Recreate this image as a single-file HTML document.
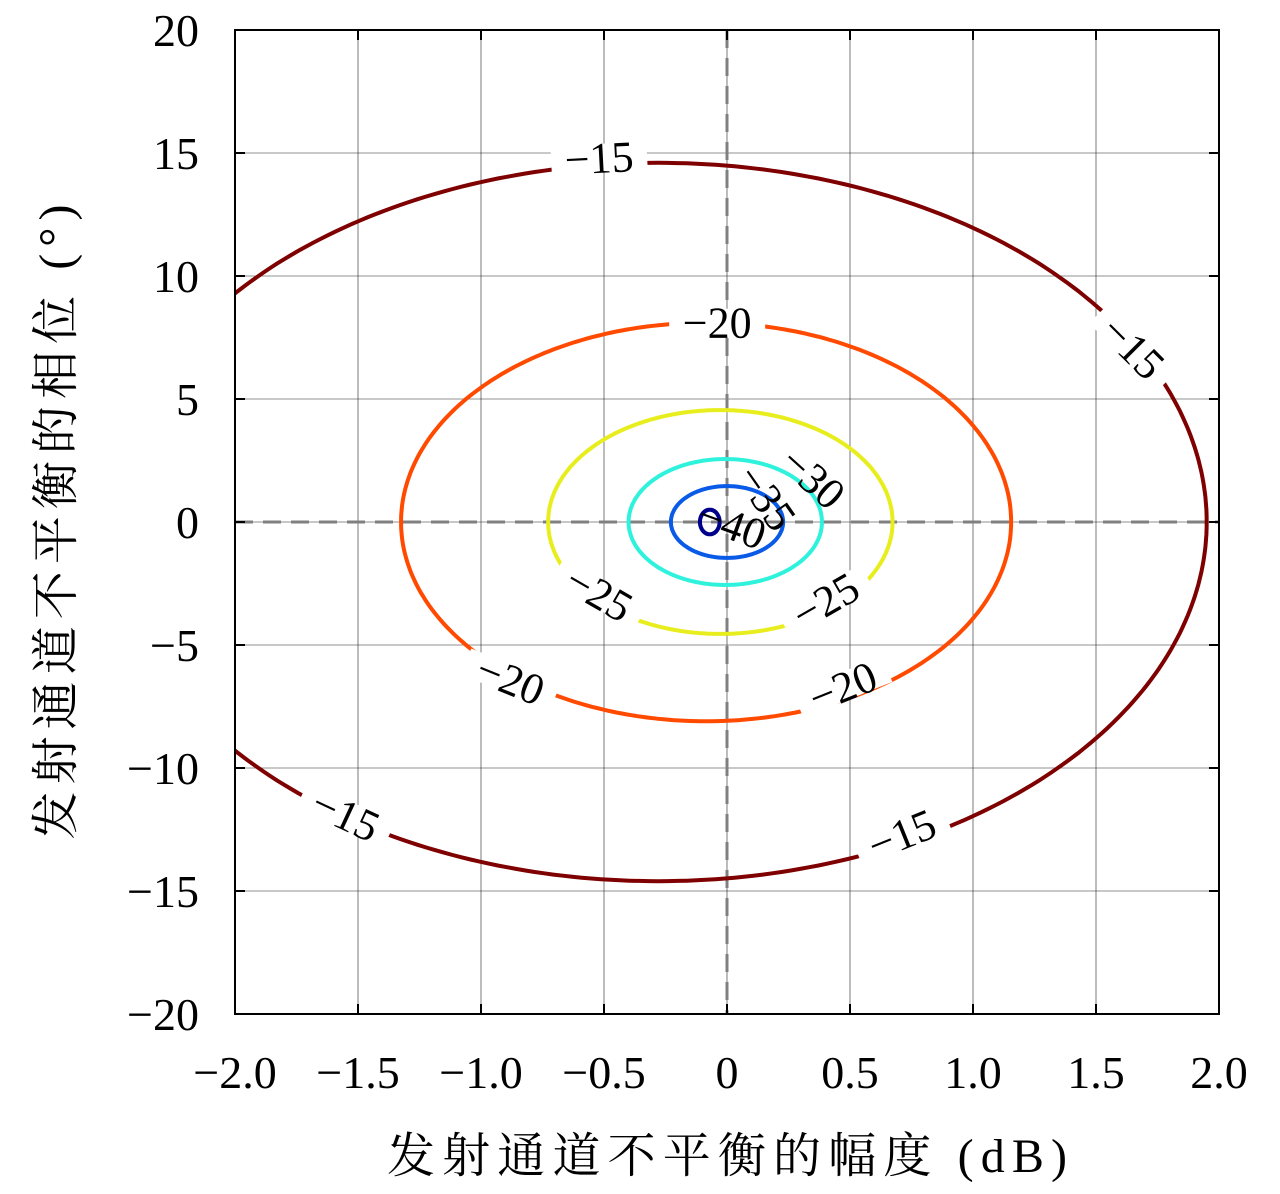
<!DOCTYPE html>
<html><head><meta charset="utf-8"><style>
body{margin:0;background:#fff}
svg text{font-family:"Liberation Serif","Noto Serif CJK SC",serif}
</style></head><body>
<svg id="c" width="1280" height="1189" xmlns="http://www.w3.org/2000/svg"></svg>
<script>
const xTicks=[-2,-1.5,-1,-0.5,0,0.5,1,1.5,2];
const xTickLabels=["−2.0","−1.5","−1.0","−0.5","0","0.5","1.0","1.5","2.0"];
const yTicks=[-20,-15,-10,-5,0,5,10,15,20];
const yTickLabels=["−20","−15","−10","−5","0","5","10","15","20"];
const levels=[-15,-20,-25,-30,-35,-40];
const levelColors=["#7f0000","#ff4a00","#e8ee1e","#2ef2dc","#0a5ae8","#00008a"];
const centerX=[-0.28,-0.085,-0.027,-0.007,0,-0.07];
const radiusX=[2.23,1.24,0.70,0.393,0.228,0.04];
const radiusY=[14.6,8.1,4.55,2.56,1.46,0.5];
const labelLevel=[-15,-15,-15,-15,-20,-20,-20,-25,-25,-30,-35,-40];
const labelX=[-0.52,1.65,-1.55,0.71,-0.04,-0.88,0.47,-0.52,0.40,0.35,0.16,0.02];
const labelY=[14.8,7.1,-11.9,-12.7,8.1,-6.4,-6.7,-2.9,-3.2,1.8,1.0,-0.1];
const labelAng=[-3,45,25,-22,0,22,-22,30,-30,42,55,20];

const X=v=>235+(v+2)*246, Y=v=>522-v*24.6;
const svg=document.getElementById('c'),NS='http://www.w3.org/2000/svg';
function mk(t,a,p){const e=document.createElementNS(NS,t);for(const k in a)e.setAttribute(k,a[k]);(p||svg).appendChild(e);return e;}
const clip=mk('clipPath',{id:'pc'});mk('rect',{x:235,y:30,width:984,height:984},clip);
xTicks.forEach(v=>{const l=mk('line',{x1:X(v),x2:X(v),y1:30,y2:1014,stroke:'#222','stroke-width':0.6});
});
yTicks.forEach(v=>{const l=mk('line',{x1:235,x2:1219,y1:Y(v),y2:Y(v),stroke:'#222','stroke-width':0.6});
});
const d1=mk('line',{x1:X(0),x2:X(0),y1:30,y2:1014,stroke:'#808080','stroke-width':3,'stroke-dasharray':'18 10'});

const d2=mk('line',{x1:235,x2:1219,y1:Y(0),y2:Y(0),stroke:'#808080','stroke-width':3,'stroke-dasharray':'18 10'});

const g=mk('g',{'clip-path':'url(#pc)'});
const lbl=mk('g',{'clip-path':'url(#pc)'});
levels.forEach((lv,i)=>{let d='';for(let k=0;k<=360;k++){const t=k*Math.PI/180;
d+=(k?'L':'M')+X(centerX[i]+radiusX[i]*Math.cos(t)).toFixed(1)+','+Y(radiusY[i]*Math.sin(t)).toFixed(1);}
const p=mk('path',{d:d,fill:'none',stroke:levelColors[i],'stroke-width':4},g);
});
labelLevel.forEach((lv,i)=>{const gx=mk('g',{transform:`translate(${X(labelX[i])},${Y(labelY[i])}) rotate(${labelAng[i]})`},lbl);
if(lv>-30)mk('rect',{x:-48,y:-14,width:96,height:28,fill:'#fff'},gx);
const t=mk('text',{x:0,y:15,'text-anchor':'middle','font-size':44},gx);t.textContent='−'+(-lv);
});
const f=mk('rect',{x:235,y:30,width:984,height:984,fill:'none',stroke:'#000','stroke-width':2});

xTicks.forEach((v,i)=>{mk('line',{x1:X(v),x2:X(v),y1:1014,y2:1004,stroke:'#000','stroke-width':2});mk('line',{x1:X(v),x2:X(v),y1:30,y2:40,stroke:'#000','stroke-width':2});
const t=mk('text',{x:X(v),y:1088,'text-anchor':'middle','font-size':46});t.textContent=xTickLabels[i];
});
yTicks.forEach((v,i)=>{mk('line',{x1:235,x2:245,y1:Y(v),y2:Y(v),stroke:'#000','stroke-width':2});mk('line',{x1:1209,x2:1219,y1:Y(v),y2:Y(v),stroke:'#000','stroke-width':2});
const t=mk('text',{x:199,y:Y(v)+16,'text-anchor':'end','font-size':46});t.textContent=yTickLabels[i];
});
const xt=mk('text',{x:727,y:1172,'text-anchor':'middle','font-size':48,textLength:680});xt.textContent='发射通道不平衡的幅度 (dB)';

const yt=mk('text',{x:0,y:0,'text-anchor':'middle','font-size':48,textLength:635,transform:'translate(72,522) rotate(-90)'});yt.textContent='发射通道不平衡的相位 (°)';

</script>
</body></html>
